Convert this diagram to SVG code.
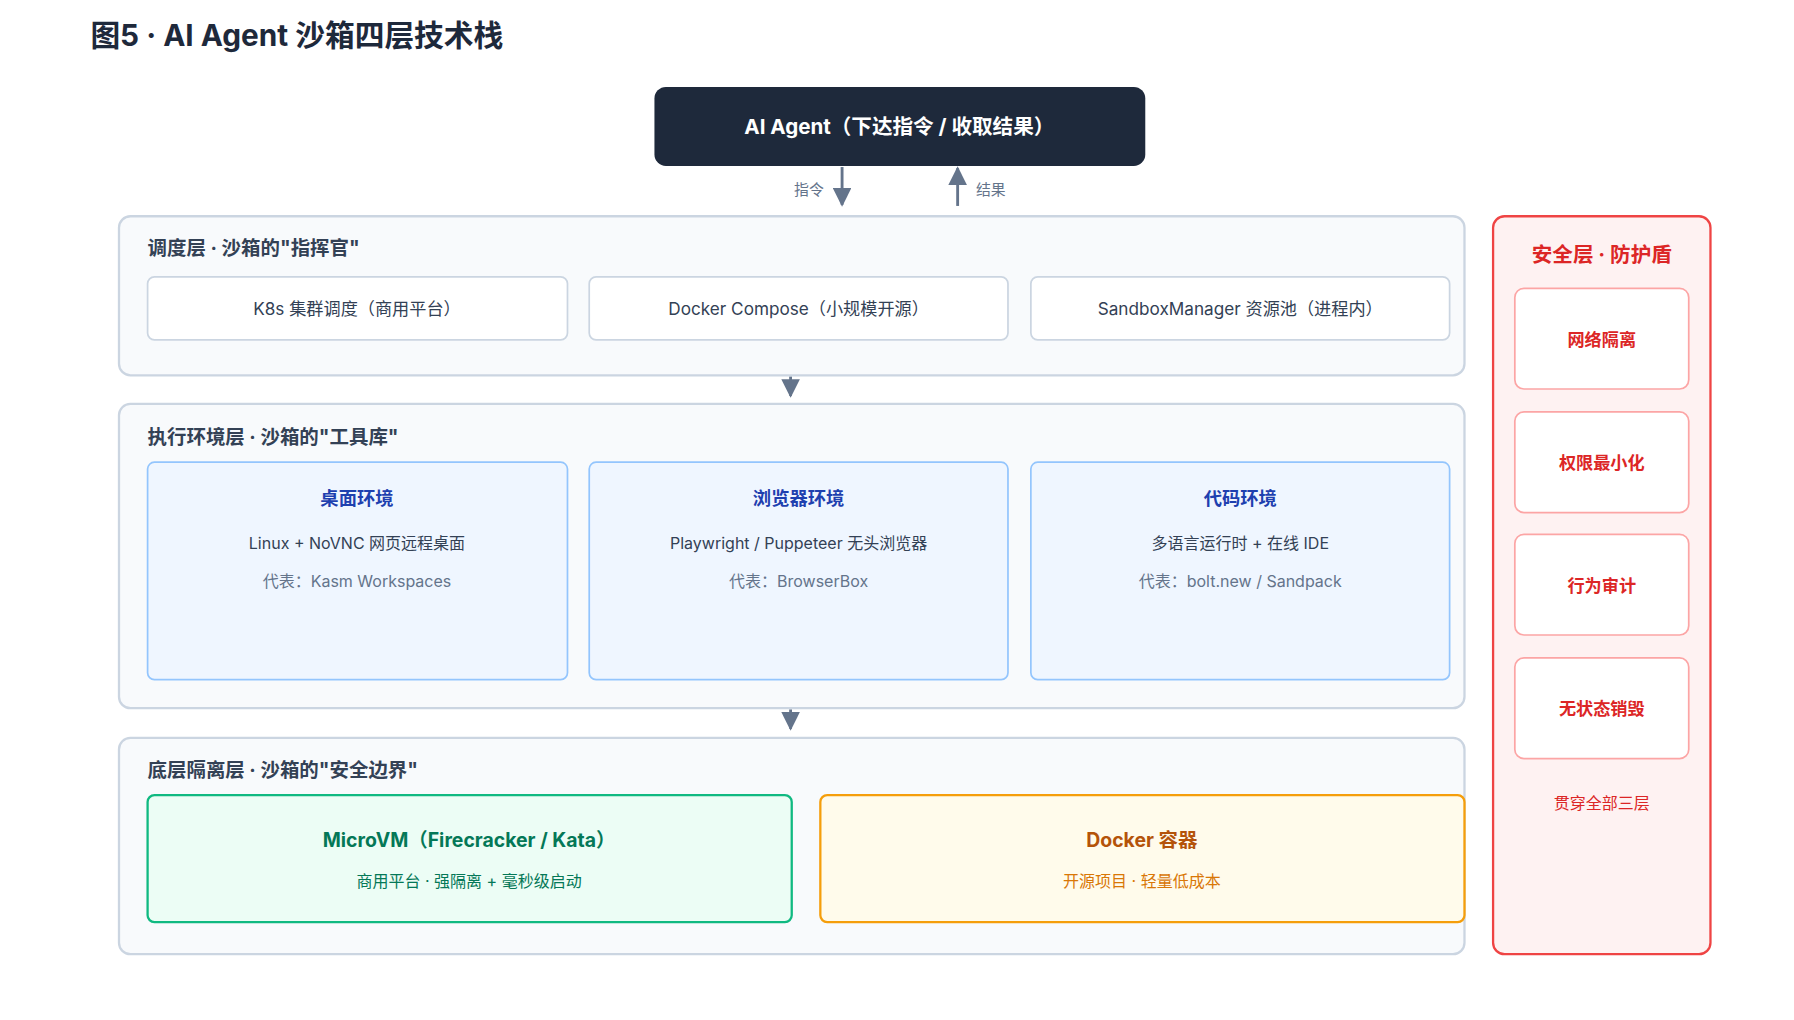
<svg xmlns="http://www.w3.org/2000/svg" width="1794" height="1020" viewBox="0 0 1794 1020">
<defs>
<marker id="ah" viewBox="0 0 10 10" refX="9" refY="5" markerWidth="6.5" markerHeight="6.5" orient="auto"><path d="M0,0 L10,5 L0,10 z" fill="#64748b"/></marker>
<style>
text{font-family:Inter,"Noto Sans CJK SC",sans-serif;text-anchor:middle}
.layer{fill:#f8fafc;stroke:#cbd5e1;stroke-width:2}
.lt{font-size:17px;font-weight:bold;fill:#334155;text-anchor:start}
.sb{fill:#fff;stroke:#cbd5e1;stroke-width:1.5}
.st{font-size:15px;fill:#334155}
.eb{fill:#eff6ff;stroke:#93c5fd;stroke-width:1.5}
.et{font-size:16px;font-weight:bold;fill:#1e40af}
.e1{font-size:14px;fill:#334155}
.e2{font-size:14px;fill:#64748b}
.rb{fill:#fff;stroke:#fca5a5;stroke-width:1.5}
.rt{font-size:15px;font-weight:bold;fill:#dc2626}
.c{stroke:#64748b;stroke-width:2.5;fill:none}
.cl{font-size:13px;fill:#64748b}
</style>
</defs>
<rect width="1794" height="1020" fill="#fff"/>
<g transform="scale(1.14413)">
<text x="79" y="40" style="text-anchor:start;font-size:26px;font-weight:bold;fill:#1e293b">图5 · AI Agent 沙箱四层技术栈</text>
<g id="agent"><rect x="572" y="76" width="429" height="69" rx="10" fill="#1e293b"/><text x="786" y="117" style="font-size:18px;font-weight:bold;fill:#fff">AI Agent（下达指令 / 收取结果）</text></g>
<g id="connectors">
<line class="c" x1="736" y1="146" x2="736" y2="179" marker-end="url(#ah)"/>
<line class="c" x1="837" y1="180" x2="837" y2="147" marker-end="url(#ah)"/>
<line class="c" x1="691" y1="329" x2="691" y2="346" marker-end="url(#ah)"/>
<line class="c" x1="691" y1="620" x2="691" y2="637" marker-end="url(#ah)"/>
<text class="cl" x="707" y="170">指令</text><text class="cl" x="866" y="170">结果</text>
</g>
<g id="layer1"><rect class="layer" x="104" y="189" width="1176" height="139" rx="10"/><text class="lt" x="129" y="223">调度层 · 沙箱的"指挥官"</text>
<rect class="sb" x="129" y="242" width="367" height="55" rx="6"/><text class="st" x="312" y="275">K8s 集群调度（商用平台）</text>
<rect class="sb" x="515" y="242" width="366" height="55" rx="6"/><text class="st" x="698" y="275">Docker Compose（小规模开源）</text>
<rect class="sb" x="901" y="242" width="366" height="55" rx="6"/><text class="st" x="1084" y="275">SandboxManager 资源池（进程内）</text></g>
<g id="layer2"><rect class="layer" x="104" y="353" width="1176" height="266" rx="10"/><text class="lt" x="129" y="388">执行环境层 · 沙箱的"工具库"</text>
<rect class="eb" x="129" y="404" width="367" height="190" rx="6"/><text class="et" x="312" y="441">桌面环境</text><text class="e1" x="312" y="480">Linux + NoVNC 网页远程桌面</text><text class="e2" x="312" y="513">代表：Kasm Workspaces</text>
<rect class="eb" x="515" y="404" width="366" height="190" rx="6"/><text class="et" x="698" y="441">浏览器环境</text><text class="e1" x="698" y="480">Playwright / Puppeteer 无头浏览器</text><text class="e2" x="698" y="513">代表：BrowserBox</text>
<rect class="eb" x="901" y="404" width="366" height="190" rx="6"/><text class="et" x="1084" y="441">代码环境</text><text class="e1" x="1084" y="480">多语言运行时 + 在线 IDE</text><text class="e2" x="1084" y="513">代表：bolt.new / Sandpack</text></g>
<g id="layer3"><rect class="layer" x="104" y="645" width="1176" height="189" rx="10"/><text class="lt" x="129" y="679">底层隔离层 · 沙箱的"安全边界"</text>
<rect x="129" y="695" width="563" height="111" rx="6" fill="#ecfdf5" stroke="#10b981" stroke-width="2"/><text x="410" y="740" style="font-size:17px;font-weight:bold;fill:#047857">MicroVM（Firecracker / Kata）</text><text x="410" y="775" style="font-size:14px;fill:#047857">商用平台 · 强隔离 + 毫秒级启动</text>
<rect x="717" y="695" width="563" height="111" rx="6" fill="#fffbeb" stroke="#f59e0b" stroke-width="2"/><text x="998" y="740" style="font-size:17px;font-weight:bold;fill:#b45309">Docker 容器</text><text x="998" y="775" style="font-size:14px;fill:#d97706">开源项目 · 轻量低成本</text></g>
<g id="security"><rect x="1305" y="189" width="190" height="645" rx="10" fill="#fef2f2" stroke="#ef4444" stroke-width="2"/><text x="1400" y="229" style="font-size:18px;font-weight:bold;fill:#dc2626">安全层 · 防护盾</text>
<rect class="rb" x="1324" y="252" width="152" height="88" rx="8"/><text class="rt" x="1400" y="302">网络隔离</text>
<rect class="rb" x="1324" y="360" width="152" height="88" rx="8"/><text class="rt" x="1400" y="410">权限最小化</text>
<rect class="rb" x="1324" y="467" width="152" height="88" rx="8"/><text class="rt" x="1400" y="517">行为审计</text>
<rect class="rb" x="1324" y="575" width="152" height="88" rx="8"/><text class="rt" x="1400" y="625">无状态销毁</text>
<text x="1400" y="707" style="font-size:14px;fill:#dc2626">贯穿全部三层</text></g>
</g>
</svg>
